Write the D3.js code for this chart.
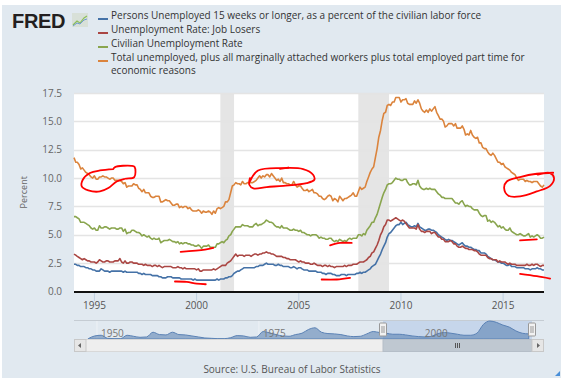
<!DOCTYPE html>
<html>
<head>
<meta charset="utf-8">
<script src="https://cdn.jsdelivr.net/npm/d3@7"></script>
<style>
  body { margin: 0; background: #fff; }
  svg { display: block; font-family: "Open Sans", sans-serif; }
</style>
</head>
<body>
<svg width="566" height="384"></svg>
<script>
// monthly values, Jan 1994 .. Jan 2017
var startYear = 1994;

var longTerm = [ // Persons unemployed 15 weeks or longer
  2.4,2.4,2.3,2.3,2.2,2.2,2.2,2.1,2.1,2.0,2.0,1.9,
  1.9,1.8,1.8,1.8,2.0,1.9,1.8,1.8,1.8,1.7,1.8,1.8,
  1.8,1.8,1.8,1.8,1.8,1.7,1.8,1.7,1.7,1.7,1.7,1.7,
  1.7,1.7,1.6,1.6,1.5,1.6,1.5,1.5,1.5,1.5,1.4,1.4,
  1.4,1.4,1.3,1.3,1.2,1.2,1.2,1.3,1.3,1.3,1.2,1.2,
  1.2,1.2,1.2,1.1,1.1,1.1,1.1,1.1,1.1,1.1,1.0,1.1,
  1.0,1.0,1.0,1.0,1.0,1.0,1.0,1.0,1.0,1.0,1.0,1.0,
  1.1,1.0,1.1,1.1,1.1,1.2,1.2,1.3,1.3,1.4,1.6,1.7,
  1.8,1.8,1.9,2.0,2.1,2.1,2.1,2.1,2.1,2.1,2.1,2.2,
  2.2,2.3,2.3,2.3,2.4,2.5,2.4,2.4,2.4,2.4,2.3,2.3,
  2.4,2.3,2.3,2.2,2.2,2.2,2.2,2.1,2.1,2.2,2.1,2.0,
  2.1,2.1,2.0,1.9,1.9,1.9,1.8,1.8,1.8,1.8,1.8,1.7,
  1.7,1.7,1.6,1.6,1.5,1.6,1.6,1.6,1.5,1.5,1.4,1.4,
  1.4,1.5,1.5,1.5,1.4,1.5,1.5,1.5,1.5,1.5,1.6,1.6,
  1.7,1.6,1.7,1.7,1.8,1.9,2.0,2.2,2.3,2.4,2.7,3.0,
  3.3,3.7,4.0,4.3,4.8,5.1,5.2,5.4,5.6,5.8,5.9,5.9,
  6.1,5.9,6.0,6.1,5.9,5.8,5.7,5.7,5.8,5.7,6.0,5.7,
  5.6,5.5,5.4,5.4,5.5,5.5,5.4,5.4,5.3,5.2,5.0,4.9,
  4.8,4.7,4.6,4.5,4.6,4.5,4.5,4.4,4.3,4.2,4.1,4.2,
  4.3,4.1,4.0,4.0,3.9,3.9,3.8,3.7,3.7,3.6,3.6,3.4,
  3.4,3.4,3.3,3.1,3.0,2.9,2.8,2.8,2.7,2.6,2.6,2.5,
  2.5,2.4,2.3,2.3,2.4,2.2,2.2,2.2,2.1,2.1,2.1,2.1,
  2.1,2.0,2.0,2.0,1.9,2.0,2.0,2.0,2.1,2.0,2.0,1.9,
  1.9
];

var jobLosers = [
  3.3,3.2,3.1,3.0,2.9,2.8,2.9,2.8,2.7,2.7,2.6,2.6,
  2.6,2.5,2.6,2.8,2.7,2.6,2.6,2.7,2.7,2.6,2.6,2.6,
  2.7,2.7,2.7,2.9,2.6,2.5,2.7,2.5,2.5,2.6,2.6,2.5,
  2.5,2.5,2.4,2.4,2.4,2.3,2.4,2.3,2.3,2.3,2.2,2.3,
  2.3,2.2,2.3,2.2,2.1,2.2,2.2,2.2,2.2,2.2,2.1,2.1,
  2.1,2.2,2.1,2.1,2.0,2.1,2.0,2.0,2.0,2.0,2.0,2.0,
  1.9,2.0,1.8,1.8,1.9,1.9,1.9,1.9,1.9,1.9,2.0,1.9,
  2.0,2.1,2.2,2.3,2.3,2.3,2.5,2.6,2.7,2.9,3.1,3.3,
  3.1,3.2,3.2,3.2,3.1,3.2,3.2,3.2,3.1,3.2,3.3,3.3,
  3.2,3.3,3.3,3.4,3.4,3.5,3.4,3.4,3.3,3.3,3.2,3.1,
  3.1,3.1,3.1,3.0,3.0,2.9,2.9,2.8,2.8,2.8,2.8,2.7,
  2.6,2.7,2.6,2.6,2.5,2.5,2.5,2.4,2.4,2.5,2.4,2.3,
  2.3,2.3,2.2,2.3,2.3,2.2,2.3,2.2,2.2,2.1,2.2,2.2,
  2.2,2.2,2.2,2.3,2.2,2.3,2.3,2.3,2.4,2.4,2.4,2.5,
  2.6,2.6,2.6,2.7,2.8,3.0,3.1,3.4,3.5,3.8,4.1,4.5,
  5.0,5.3,5.7,5.9,6.3,6.3,6.2,6.3,6.4,6.5,6.4,6.3,
  6.2,6.3,6.2,6.0,5.8,5.6,5.6,5.6,5.6,5.5,5.9,5.5,
  5.3,5.3,5.2,5.3,5.3,5.3,5.1,5.2,5.2,5.0,4.8,4.8,
  4.6,4.6,4.4,4.4,4.4,4.5,4.4,4.2,4.2,4.0,3.9,3.9,
  4.0,3.9,3.8,3.8,3.7,3.7,3.7,3.6,3.6,3.5,3.3,3.2,
  3.2,3.2,3.2,3.0,2.9,2.9,2.8,2.8,2.8,2.6,2.7,2.6,
  2.6,2.6,2.5,2.4,2.5,2.4,2.4,2.4,2.3,2.3,2.3,2.3,
  2.3,2.3,2.4,2.3,2.3,2.4,2.3,2.4,2.4,2.3,2.2,2.3,
  2.3
];

var civilian = [
  6.6,6.6,6.5,6.4,6.1,6.1,6.1,6.0,5.9,5.8,5.6,5.5,
  5.6,5.4,5.4,5.8,5.6,5.6,5.7,5.7,5.6,5.5,5.6,5.6,
  5.6,5.5,5.5,5.6,5.6,5.3,5.5,5.1,5.2,5.2,5.4,5.4,
  5.3,5.2,5.2,5.1,4.9,5.0,4.9,4.8,4.9,4.7,4.6,4.7,
  4.6,4.6,4.7,4.3,4.4,4.5,4.5,4.5,4.6,4.5,4.4,4.4,
  4.3,4.4,4.2,4.3,4.2,4.3,4.3,4.2,4.2,4.1,4.1,4.0,
  4.0,4.1,4.0,3.8,4.0,4.0,4.0,4.1,3.9,3.9,3.9,3.9,
  4.2,4.2,4.3,4.4,4.3,4.5,4.6,4.9,5.0,5.3,5.5,5.7,
  5.7,5.7,5.7,5.9,5.8,5.8,5.8,5.7,5.7,5.7,5.9,6.0,
  5.8,5.9,5.9,6.0,6.1,6.3,6.2,6.1,6.1,6.0,5.8,5.7,
  5.7,5.6,5.8,5.6,5.6,5.6,5.5,5.4,5.4,5.5,5.4,5.4,
  5.3,5.4,5.2,5.2,5.1,5.0,5.0,4.9,5.0,5.0,5.0,4.9,
  4.7,4.8,4.7,4.7,4.6,4.6,4.7,4.7,4.5,4.4,4.5,4.4,
  4.6,4.5,4.4,4.5,4.4,4.6,4.7,4.6,4.7,4.7,4.7,5.0,
  5.0,4.9,5.1,5.0,5.4,5.6,5.8,6.1,6.1,6.5,6.8,7.3,
  7.8,8.3,8.7,9.0,9.4,9.5,9.5,9.6,9.8,10.0,9.9,9.9,
  9.8,9.8,9.9,9.9,9.6,9.4,9.4,9.5,9.5,9.4,9.8,9.3,
  9.1,9.0,9.0,9.1,9.0,9.1,9.0,9.0,9.0,8.8,8.6,8.5,
  8.3,8.3,8.2,8.2,8.2,8.2,8.2,8.0,7.8,7.8,7.7,7.9,
  8.0,7.7,7.5,7.6,7.5,7.5,7.3,7.2,7.2,7.2,6.9,6.7,
  6.6,6.7,6.7,6.2,6.3,6.1,6.2,6.1,5.9,5.7,5.8,5.6,
  5.7,5.5,5.4,5.4,5.6,5.3,5.2,5.1,5.0,5.0,5.1,5.0,
  4.9,4.9,5.0,5.1,4.8,4.9,4.8,4.9,5.0,4.9,4.7,4.7,
  4.8
];

var underemployed = [ // total unemployed + marginally attached + part time for economic reasons
  11.8,11.4,11.4,11.2,10.8,10.9,10.7,10.5,10.4,10.3,10.1,10.0,
  10.2,9.9,9.9,10.1,10.1,10.2,10.1,10.1,10.0,9.9,10.0,10.0,
  9.8,9.8,9.8,9.8,9.7,9.5,9.6,9.2,9.3,9.3,9.3,9.5,
  9.4,9.4,9.1,9.0,8.8,9.0,8.7,8.7,8.7,8.4,8.3,8.3,
  8.4,8.4,8.4,7.9,7.9,8.0,8.1,8.0,8.0,7.8,7.6,7.6,
  7.7,7.7,7.4,7.5,7.4,7.5,7.5,7.3,7.4,7.2,7.1,7.1,
  7.1,7.2,7.1,6.9,7.1,7.0,7.0,7.1,7.0,6.8,7.1,6.9,
  7.3,7.4,7.3,7.4,7.5,7.9,7.9,8.1,8.7,9.3,9.4,9.6,
  9.5,9.5,9.4,9.7,9.5,9.5,9.6,9.6,9.6,9.6,9.7,9.8,
  10.0,10.2,10.0,10.2,10.1,10.3,10.3,10.1,10.4,10.2,10.0,9.8,
  9.9,9.7,10.0,9.6,9.6,9.5,9.5,9.4,9.4,9.7,9.4,9.2,
  9.3,9.3,9.1,8.9,8.9,9.0,8.8,8.9,9.0,8.7,8.7,8.6,
  8.4,8.4,8.2,8.1,8.2,8.4,8.5,8.4,8.0,8.2,8.1,7.9,
  8.4,8.2,8.0,8.2,8.2,8.3,8.4,8.5,8.7,8.4,8.4,8.8,
  9.2,9.0,9.1,9.2,9.7,10.1,10.5,10.8,11.0,11.8,12.6,13.6,
  14.2,15.1,15.7,15.8,16.4,16.5,16.4,16.7,16.7,17.1,17.1,17.1,
  16.7,16.9,16.9,17.0,16.6,16.5,16.5,16.5,16.8,16.6,16.9,16.6,
  16.1,15.9,15.8,16.0,15.8,16.1,15.9,16.1,16.3,15.8,15.5,15.2,
  15.2,15.0,14.5,14.6,14.8,14.8,14.8,14.6,14.8,14.4,14.4,14.4,
  14.6,14.3,13.8,13.9,13.8,14.2,13.8,13.6,13.5,13.6,13.1,13.1,
  12.7,12.6,12.6,12.3,12.1,12.0,12.2,12.0,11.7,11.4,11.4,11.2,
  11.3,11.0,10.9,10.8,10.7,10.5,10.4,10.3,10.0,9.8,9.9,9.9,
  9.9,9.7,9.8,9.7,9.7,9.6,9.7,9.7,9.7,9.5,9.3,9.2,
  9.4
];

var seriesNames = [
  "Persons Unemployed 15 weeks or longer, as a percent of the civilian labor force",
  "Unemployment Rate: Job Losers",
  "Civilian Unemployment Rate",
  "Total unemployed, plus all marginally attached workers plus total employed part time for|economic reasons"
];
var seriesColors = ["#4572a7", "#aa4643", "#89a54e", "#db843d"];

// recessions (start, end)
var recessions = [["2001-03-01", "2001-11-01"], ["2007-12-01", "2009-06-01"]];

var yTicks = [0, 2.5, 5, 7.5, 10, 12.5, 15, 17.5];
var xTickYears = [1995, 2000, 2005, 2010, 2015];

// navigator: annual averages of the long-term series, 1948..2016
var navYears = d3.range(1948, 2017);
var navValues = [
  0.5,1.3,1.5,0.6,0.5,0.5,1.5,1.2,0.9,1.0,2.4,1.7,1.6,2.4,1.7,1.6,1.3,1.0,0.7,0.6,0.5,0.5,
  0.8,1.4,1.3,0.9,1.0,2.6,2.2,1.7,1.3,1.2,1.7,2.1,3.2,3.7,2.4,2.0,1.9,1.7,1.3,1.1,
  1.2,1.9,2.6,2.3,2.1,1.8,1.8,1.6,1.3,1.1,1.0,1.2,2.0,2.3,2.1,1.8,1.5,1.5,2.1,4.7,
  5.7,5.3,4.5,3.9,2.8,2.1,1.9
];
var navLabels = [1950, 1975, 2000];

// red hand-drawn marks on the picture, as [year, percent]
var marks = [
  [[1995.92,10.79],[1996.01,10.97],[1996.82,11.08],[1996.97,10.97],[1996.95,10.09],[1996.5,9.94],[1996.09,9.7],[1995.68,9.12],[1995.27,8.82],[1994.7,8.91],[1994.38,9.26],[1994.43,9.85],[1994.78,10.44],[1995.27,10.67],[1995.92,10.79]],
  [[2002.61,9.7],[2003.01,10.67],[2004.23,10.88],[2005.21,10.79],[2005.7,10.29],[2005.76,9.85],[2005.39,9.56],[2004.25,9.32],[2003.43,9.21],[2002.78,9.09],[2002.58,9.41],[2002.61,10.0]],
  [[2004.08,10.82],[2004.49,10.93]],
  [[2017.45,10.47],[2016.65,10.38],[2015.83,10.09],[2015.18,9.7],[2015.05,9.12],[2015.26,8.44],[2015.83,8.38],[2016.65,8.82],[2017.3,9.32],[2017.49,10.0],[2017.3,10.44],[2016.7,10.3]],
  [[1999.22,3.49],[2000.41,3.69],[2000.82,3.84]],
  [[1998.94,0.88],[1999.51,0.85],[2000.0,0.7],[2000.45,0.64]],
  [[2006.53,4.07],[2007.02,4.28],[2007.59,4.28]],
  [[2006.12,1.06],[2006.86,1.06],[2007.51,1.2]],
  [[2015.83,4.51],[2016.65,4.6]],
  [[2015.83,1.56],[2016.65,1.35],[2017.3,1.14]]
];

var svg = d3.select("svg");

// background panel
svg.append("rect").attr("x", 2).attr("y", 5).attr("width", 559).attr("height", 373).attr("fill", "#e1e9f0");

var x = d3.scaleTime().domain([new Date(1994, 0, 1), new Date(2017, 0, 1)]).range([74, 544]);
var y = d3.scaleLinear().domain([0, 17.5]).range([291.5, 93]);

function monthDate(i) { return new Date(startYear + Math.floor(i / 12), i % 12, 1); }
function yearDate(v) {
  var yr = Math.floor(v);
  return new Date(yr, 0, 1).getTime() + (v - yr) * 365.25 * 864e5;
}

// plot background
svg.append("rect")
  .attr("x", x.range()[0]).attr("y", y(17.5))
  .attr("width", x.range()[1] - x.range()[0]).attr("height", y(0) - y(17.5))
  .attr("fill", "#fff");

// recession bars
svg.append("g").selectAll("rect").data(recessions).enter().append("rect")
  .attr("x", d => x(new Date(d[0])))
  .attr("width", d => x(new Date(d[1])) - x(new Date(d[0])))
  .attr("y", y(17.5)).attr("height", y(0) - y(17.5))
  .attr("fill", "#e5e5e5");

// gridlines + y labels
var yAxis = svg.append("g");
yAxis.selectAll("line").data(yTicks.slice(1)).enter().append("line")
  .attr("x1", 74).attr("x2", 544)
  .attr("y1", d => Math.round(y(d)) + 0.5).attr("y2", d => Math.round(y(d)) + 0.5)
  .attr("stroke", "#e4e4e4").attr("stroke-width", 1.5);
yAxis.selectAll("text").data(yTicks).enter().append("text")
  .attr("x", 62).attr("y", d => y(d)).attr("dy", "0.35em")
  .attr("text-anchor", "end")
  .attr("font-size", 10).attr("fill", "#666")
  .text(d => d3.format(".1f")(d));

svg.append("text")
  .attr("transform", "translate(27," + y(8.75) + ") rotate(-90)")
  .attr("text-anchor", "middle")
  .attr("font-size", 9).attr("fill", "#666")
  .text("Percent");

// lines
var line = d3.line()
  .x((d, i) => x(monthDate(i)))
  .y(d => y(d));

var allSeries = [longTerm, jobLosers, civilian, underemployed];
svg.append("g").selectAll("path").data(allSeries).enter().append("path")
  .attr("d", line)
  .attr("fill", "none")
  .attr("stroke", (d, i) => seriesColors[i])
  .attr("stroke-width", 1.6)
  .attr("stroke-linejoin", "round");

// x axis
svg.append("line").attr("x1", 74).attr("x2", 544).attr("y1", 292).attr("y2", 292)
  .attr("stroke", "#111").attr("stroke-width", 2);
var xt = svg.append("g").selectAll("g").data(xTickYears).enter().append("g")
  .attr("transform", d => "translate(" + x(new Date(d, 0, 1)) + ",0)");
xt.append("line").attr("y1", 293).attr("y2", 301).attr("stroke", "#c0d0e0");
xt.append("text").attr("y", 309).attr("text-anchor", "middle")
  .attr("font-size", 10).attr("fill", "#555")
  .text(d => d);

// red marks
var markLine = d3.line()
  .x(d => x(yearDate(d[0])))
  .y(d => y(d[1]))
  .curve(d3.curveCatmullRom);
svg.append("g").selectAll("path").data(marks).enter().append("path")
  .attr("d", markLine)
  .attr("fill", "none").attr("stroke", "#f00").attr("stroke-width", 1.8)
  .attr("stroke-linecap", "round");

// navigator
var nx = d3.scaleTime().domain([new Date(1948, 0, 1), new Date(2017, 0, 1)]).range([85, 532]);
var ny = d3.scaleLinear().domain([0.4, d3.max(navValues)]).range([339, 321]);
var nav = svg.append("g");
nav.append("line").attr("x1", 74).attr("x2", 544).attr("y1", 320.5).attr("y2", 320.5)
  .attr("stroke", "#c5ccd3");
nav.selectAll(".ngrid").data(navLabels).enter().append("line")
  .attr("x1", d => nx(new Date(d, 0, 1)) - 1).attr("x2", d => nx(new Date(d, 0, 1)) - 1)
  .attr("y1", 321).attr("y2", 339).attr("stroke", "#eef2f6");
var selX0 = nx(new Date(1994, 0, 1)), selX1 = nx(new Date(2017, 0, 1));
nav.append("rect").attr("x", selX0).attr("y", 321).attr("width", selX1 - selX0).attr("height", 18)
  .attr("fill", "#c6d6eb");
var navArea = d3.area()
  .x((d, i) => nx(new Date(navYears[i], 6, 1)))
  .y0(339).y1(d => ny(d))
  .curve(d3.curveMonotoneX);
nav.append("path").attr("d", navArea(navValues))
  .attr("fill", "#4572a7").attr("fill-opacity", 0.5)
  .attr("stroke", "#5b82b5").attr("stroke-width", 1);
nav.selectAll(".nlab").data(navLabels).enter().append("text")
  .attr("x", d => nx(new Date(d, 0, 1)) + 3).attr("y", 337)
  .attr("font-size", 10).attr("fill", "#777")
  .text(d => d);
// handles
[selX0, selX1].forEach(function(hx) {
  nav.append("rect").attr("x", hx - 3.5).attr("y", 323).attr("width", 7).attr("height", 13)
    .attr("rx", 1).attr("fill", "#f2f2f2").attr("stroke", "#999");
  nav.append("line").attr("x1", hx - 1).attr("x2", hx - 1).attr("y1", 326).attr("y2", 333).attr("stroke", "#999");
  nav.append("line").attr("x1", hx + 1).attr("x2", hx + 1).attr("y1", 326).attr("y2", 333).attr("stroke", "#999");
});

// scrollbar
nav.append("rect").attr("x", 74.5).attr("y", 339.5).attr("width", 469).attr("height", 12)
  .attr("fill", "#eeeeee").attr("stroke", "#d8d8d8");
nav.append("rect").attr("x", selX0).attr("y", 339.5).attr("width", selX1 - selX0).attr("height", 12)
  .attr("fill", "#bfc8d1").attr("stroke", "#b5bec8");
[-2, 0, 2].forEach(function(o) {
  var cx = (selX0 + selX1) / 2 + o;
  nav.append("line").attr("x1", cx).attr("x2", cx).attr("y1", 343).attr("y2", 348).attr("stroke", "#555");
});
[[74.5, "M81,343 L78,345.5 L81,348 Z"], [532, "M537,343 L540,345.5 L537,348 Z"]].forEach(function(b) {
  nav.append("rect").attr("x", b[0]).attr("y", 339.5).attr("width", 11.5).attr("height", 12)
    .attr("fill", "#e6e6e6").attr("stroke", "#c8c8c8");
  nav.append("path").attr("d", b[1]).attr("fill", "#666");
});

// header: logo + legend
svg.append("text").attr("x", 12).attr("y", 27.5)
  .attr("font-family", "Liberation Sans, Arial, sans-serif").attr("font-weight", "bold")
  .attr("font-size", 20).attr("fill", "#231f20").attr("letter-spacing", -0.3)
  .text("FRED");
var icon = svg.append("g").attr("transform", "translate(72,13)");
icon.append("rect").attr("width", 16).attr("height", 14).attr("fill", "#d8e0d8");
icon.append("path").attr("d", "M1,12 L5,8 L8,10 L12,5 L15,3").attr("fill", "none").attr("stroke", "#8cbf5a").attr("stroke-width", 1.2);
icon.append("path").attr("d", "M1,13 L5,10 L8,11 L12,7 L15,6").attr("fill", "none").attr("stroke", "#6f9bd0").attr("stroke-width", 1);

var legendRows = [19, 33, 47, 61];
var leg = svg.append("g").selectAll("g").data(seriesNames).enter().append("g")
  .attr("transform", (d, i) => "translate(0," + legendRows[i] + ")");
leg.append("line").attr("x1", 98).attr("x2", 108).attr("stroke", (d, i) => seriesColors[i]).attr("stroke-width", 2);
leg.append("text").attr("x", 111).attr("dy", "0.35em")
  .attr("font-size", 10).attr("fill", "#333")
  .selectAll("tspan").data(d => d.split("|")).enter().append("tspan")
  .attr("x", 111).attr("dy", (d, i) => i ? 13 : 0)
  .text(d => d);

// source
svg.append("text").attr("x", 292).attr("y", 373).attr("text-anchor", "middle")
  .attr("font-size", 10).attr("fill", "#555")
  .text("Source: U.S. Bureau of Labor Statistics");

// resize corner
svg.append("path").attr("d", "M560,371 L560,376 L555,376 Z").attr("fill", "#4a8fd8");
</script>
</body>
</html>
